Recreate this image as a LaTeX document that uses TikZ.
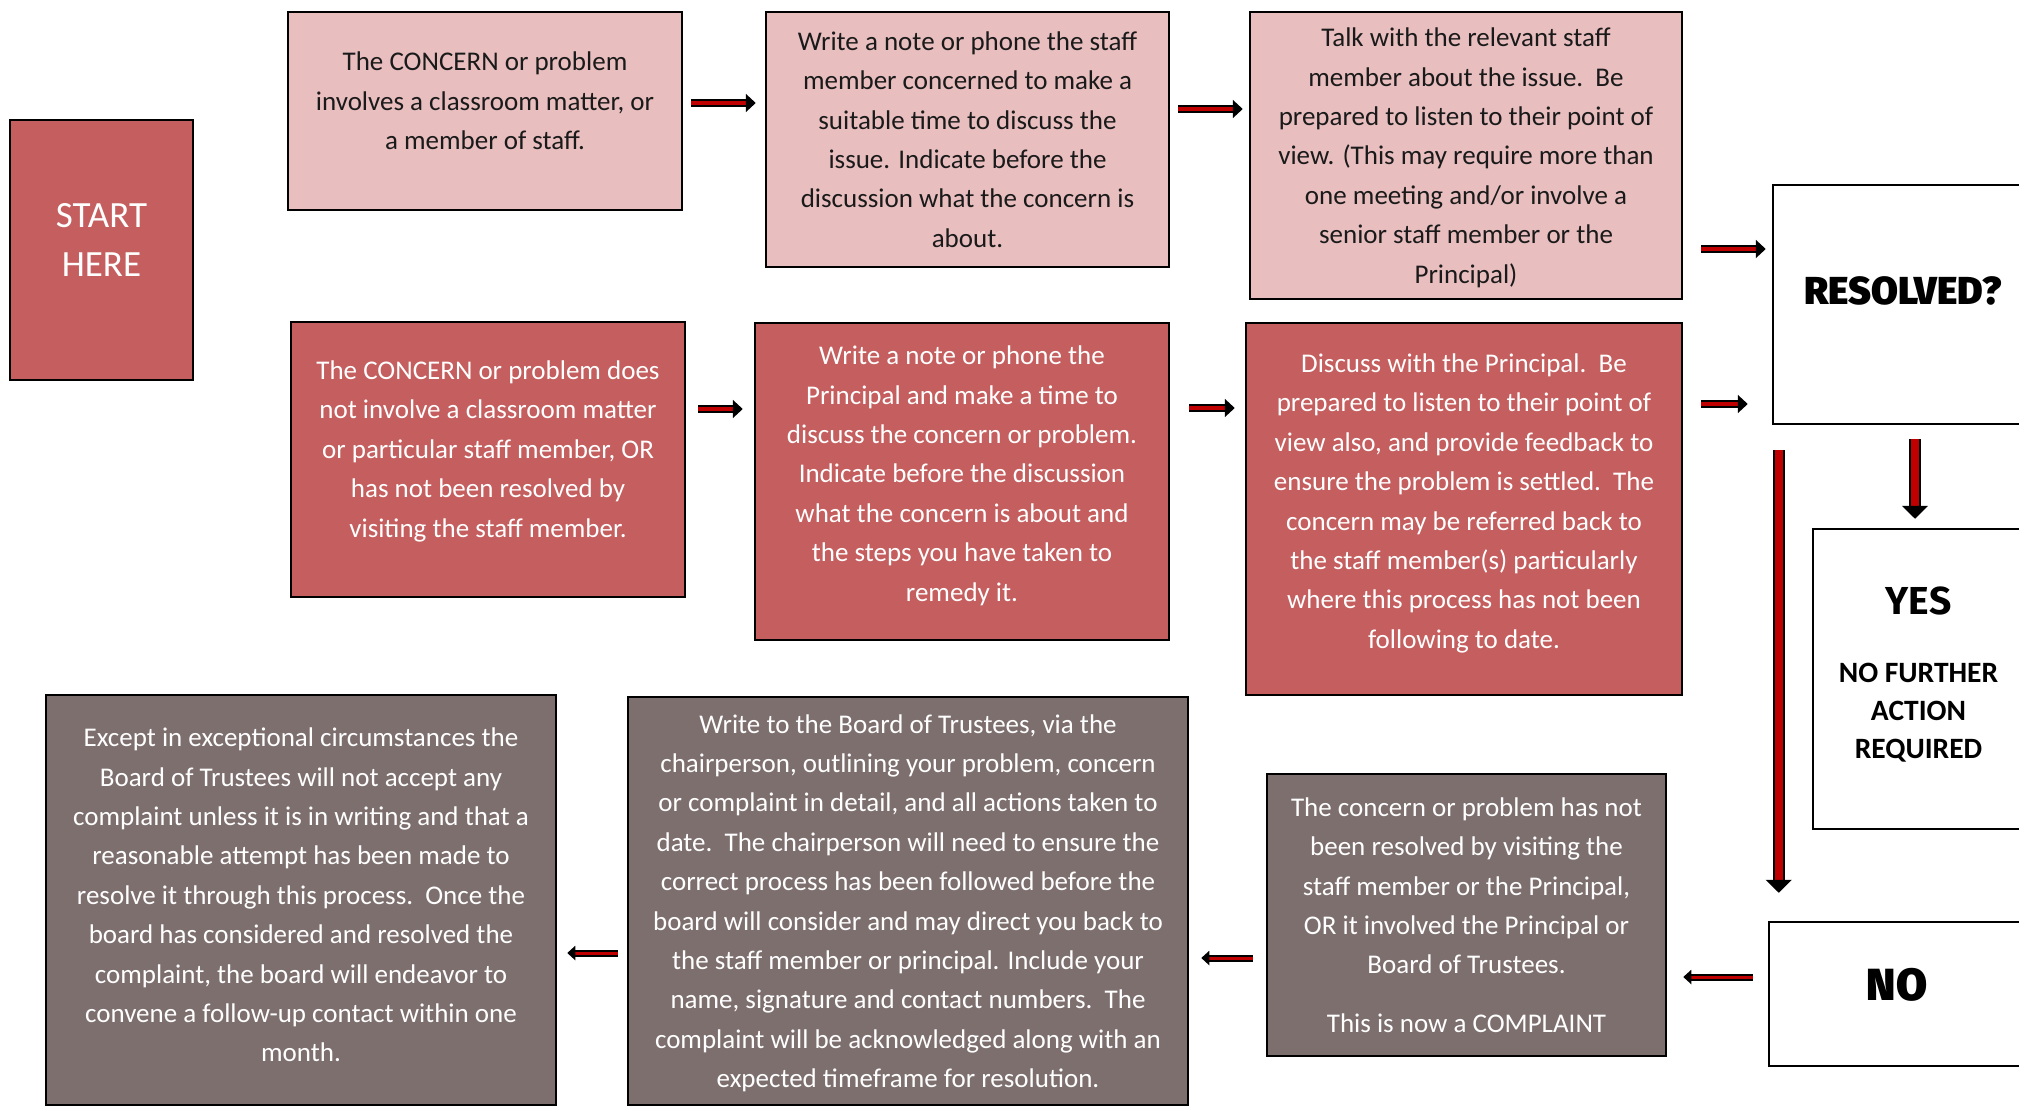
\documentclass[tikz,border=0pt]{standalone}
\usepackage{fontspec}
\setmainfont{Carlito}
\newfontfamily\headfont{Fira Sans Black}
\usetikzlibrary{arrows.meta}

\definecolor{pinkbox}{HTML}{E8BEBF}
\definecolor{redbox}{HTML}{C55E5E}
\definecolor{greybox}{HTML}{7E6F6F}
\definecolor{arrowred}{HTML}{C00000}
\definecolor{textdark}{HTML}{1A1A1A}

\begin{document}
\begin{tikzpicture}[x=1pt, y=-1pt,
    box/.style={draw=black, line width=2.5pt, align=center, inner sep=0pt, font=\fontsize{27}{39.4}\selectfont},
    pinkstep/.style={box, fill=pinkbox, text=textdark},
    redstep/.style={box, fill=redbox, text=white},
    greystep/.style={box, fill=greybox, text=white},
    answer/.style={box, fill=white, text=black},
    flow/.style={line width=2pt, double=arrowred, double distance=4pt, -{Triangle[length=10pt, width=18pt]}},
    flowdown/.style={line width=2pt, double=arrowred, double distance=8pt, -{Triangle[length=13pt, width=26pt]}},
    flowback/.style={line width=2pt, double=arrowred, double distance=3pt, -{Triangle[length=8pt, width=14pt]}}]
    \useasboundingbox (0,0) rectangle (2019,1106);
    \clip (0,0) rectangle (2019,1106);

    \node[redstep, minimum width=183pt, minimum height=260pt, text depth=20pt, font=\fontsize{37}{49}\selectfont] (start) at (101.5,250) {START\\HERE};

    \node[pinkstep, minimum width=394pt, minimum height=198pt, text depth=20pt] (a1) at (485,111)
        {The CONCERN or problem\\involves a classroom matter, or\\a member of staff.};
    \node[pinkstep, minimum width=403pt, minimum height=255pt] (a2) at (967.5,139.5)
        {Write a note or phone the staff\\member concerned to make a\\suitable time to discuss the\\issue. Indicate before the\\discussion what the concern is\\about.};
    \node[pinkstep, minimum width=432pt, minimum height=287pt, text depth=0pt] (a3) at (1466,155.5)
        {Talk with the relevant staff\\member about the issue.\ \ Be\\prepared to listen to their point of\\view. (This may require more than\\one meeting and/or involve a\\senior staff member or the\\Principal)};

    \node[redstep, minimum width=394pt, minimum height=275pt, text depth=21pt] (b1) at (488,459.5)
        {The CONCERN or problem does\\not involve a classroom matter\\or particular staff member, OR\\has not been resolved by\\visiting the staff member.};
    \node[redstep, minimum width=414pt, minimum height=317pt, text depth=16pt] (b2) at (962,481.5)
        {Write a note or phone the\\Principal and make a time to\\discuss the concern or problem.\\Indicate before the discussion\\what the concern is about and\\the steps you have taken to\\remedy it.};
    \node[redstep, minimum width=436pt, minimum height=372pt, text depth=16pt] (b3) at (1464,509)
        {Discuss with the Principal.\ \ Be\\prepared to listen to their point of\\view also, and provide feedback to\\ensure the problem is settled.\ \ The\\concern may be referred back to\\the staff member(s) particularly\\where this process has not been\\following to date.};

    \node[answer, minimum width=260pt, minimum height=239pt, text depth=28pt, font=\headfont\fontsize{39}{39}\selectfont] (res) at (1903,304.5) {RESOLVED?};
    \node[answer, minimum width=211pt, minimum height=300pt, text depth=12pt, font=\bfseries\fontsize{29.5}{38}\selectfont] (yes) at (1918.5,679)
        {{\headfont\fontsize{39}{39}\selectfont YES}\\[30pt]NO FURTHER\\ACTION\\REQUIRED};
    \node[answer, minimum width=256pt, minimum height=144pt, text depth=20pt, font=\headfont\fontsize{45}{45}\selectfont] (no) at (1897,994) {NO};

    \node[greystep, minimum width=399pt, minimum height=282pt] (c3) at (1466.5,915)
        {The concern or problem has not\\been resolved by visiting the\\staff member or the Principal,\\OR it involved the Principal or\\Board of Trustees.\\[19pt]This is now a COMPLAINT};
    \node[greystep, minimum width=560pt, minimum height=408pt, text depth=0pt] (c2) at (908,901)
        {Write to the Board of Trustees, via the\\chairperson, outlining your problem, concern\\or complaint in detail, and all actions taken to\\date.\ \ The chairperson will need to ensure the\\correct process has been followed before the\\board will consider and may direct you back to\\the staff member or principal. Include your\\name, signature and contact numbers.\ \ The\\complaint will be acknowledged along with an\\expected timeframe for resolution.};
    \node[greystep, minimum width=510pt, minimum height=410pt, text depth=10pt] (c1) at (301,900)
        {Except in exceptional circumstances the\\Board of Trustees will not accept any\\complaint unless it is in writing and that a\\reasonable attempt has been made to\\resolve it through this process.\ \ Once the\\board has considered and resolved the\\complaint, the board will endeavor to\\convene a follow-up contact within one\\month.};

    \draw[flow, shorten <=8pt, shorten >=9pt] ([yshift=8pt]a1.east) -- ([yshift=8pt]a1.east -| a2.west);
    \draw[flow, shorten <=8pt, shorten >=6pt] ([yshift=30.5pt]a2.east) -- ([yshift=30.5pt]a2.east -| a3.west);
    \draw[flow, shorten <=18pt, shorten >=6pt] ([yshift=55.5pt]res.west -| a3.east) -- ([yshift=55.5pt]res.west);
    \draw[flow, shorten <=12pt, shorten >=11pt] ([yshift=50.5pt]b1.east) -- ([yshift=50.5pt]b1.east -| b2.west);
    \draw[flow, shorten <=19pt, shorten >=10pt] ([yshift=73.5pt]b2.east) -- ([yshift=73.5pt]b2.east -| b3.west);
    \draw[flow, shorten <=18pt, shorten >=24pt] ([yshift=-99.5pt]res.west -| b3.east) -- ([yshift=-99.5pt]res.west);

    \draw[flowdown, shorten <=14pt, shorten >=9pt] ([xshift=12pt]res.south) -- ([xshift=12pt]res.south |- yes.north);
    \draw[flowdown, shorten <=25pt, shorten >=28pt] ([xshift=7pt]res.south west) -- ([xshift=7pt]res.south west |- no.north);

    \draw[flowback, shorten <=15pt, shorten >=16pt] ([yshift=17pt]no.west) -- ([yshift=17pt]no.west -| c3.east);
    \draw[flowback, shorten <=13pt, shorten >=12pt] ([yshift=-43pt]c3.west) -- ([yshift=-43pt]c3.west -| c2.east);
    \draw[flowback, shorten <=9pt, shorten >=10pt] ([yshift=-52pt]c2.west) -- ([yshift=-52pt]c2.west -| c1.east);
\end{tikzpicture}
\end{document}
